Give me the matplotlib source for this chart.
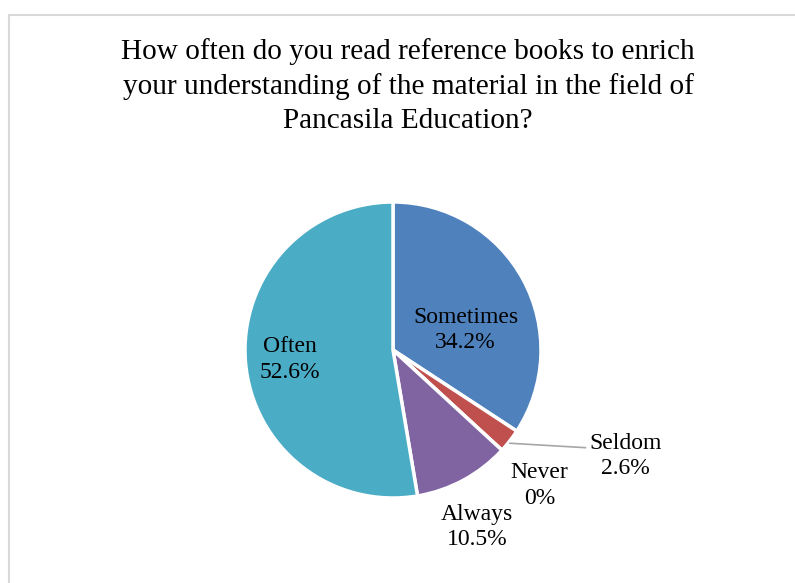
import matplotlib.pyplot as plt
import matplotlib.patches as mpatches

# data
categories = ['Sometimes', 'Seldom', 'Never', 'Always', 'Often']
values = [34.2, 2.6, 0.0, 10.5, 52.6]
pct_labels = ['34.2%', '2.6%', '0%', '10.5%', '52.6%']
colors = ['#4F81BD', '#C0504D', '#9BBB59', '#8064A2', '#4BACC6']

title = ('How often do you read reference books to enrich\n'
         'your understanding of the material in the field of\n'
         'Pancasila Education?')

# label positions (in pie radius units) - layout only
label_pos = [(0.49, 0.135), (1.57, -0.715), (0.99, -0.915), (0.57, -1.195), (-0.70, -0.065)]

plt.rcParams['font.family'] = ['Liberation Serif', 'DejaVu Serif']

W, H = 795, 583
fig = plt.figure(figsize=(W / 100, H / 100), dpi=100)

# light grey chart frame
frame = mpatches.Rectangle((8.5 / W, -0.05), 1.1, 1 - 14.5 / H + 0.05,
                           transform=fig.transFigure, fill=False,
                           edgecolor='#D9D9D9', linewidth=1.5, clip_on=False)
fig.patches.append(frame)

cx, cy, r = 393, 350, 148
ax = fig.add_axes([(cx - r) / W, (H - cy - r) / H, 2 * r / W, 2 * r / H])
ax.pie(values, colors=colors, startangle=90, counterclock=False,
       radius=1, wedgeprops=dict(edgecolor='white', linewidth=2.5))
ax.set_xlim(-1, 1)
ax.set_ylim(-1, 1)
ax.set_aspect('equal')
ax.axis('off')

for cat, pct, (x, y) in zip(categories, pct_labels, label_pos):
    ax.text(x, y, f'{cat}\n{pct}', ha='center', va='center', fontsize=17,
            color='black', linespacing=1.28, clip_on=False)

# leader line for Seldom
ax.plot([0.79, 1.30], [-0.63, -0.66], color='#A6A6A6', linewidth=1.2, clip_on=False)

fig.text(408 / W, 1 - 86 / H, title, ha='center', va='center', fontsize=21.1,
         linespacing=1.4)

fig.savefig('out.png', dpi=100)
